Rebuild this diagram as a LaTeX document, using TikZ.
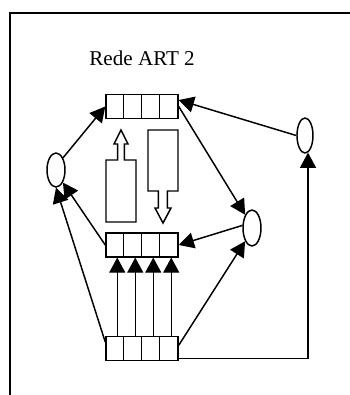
\documentclass[tikz,border=0pt]{standalone}
\usepackage{fontspec}
\setmainfont{Liberation Serif}
\usepackage{tikz}
\usetikzlibrary{positioning,arrows.meta,calc,shapes.geometric}

\begin{document}
\begin{tikzpicture}[x=0.25mm,y=-0.25mm,line width=1.05pt,
      reg/.style={draw,rectangle,inner sep=0pt,minimum width=18mm,minimum height=5.9mm},
      unit/.style={draw,ellipse,inner sep=0pt},
      arr/.style={-{Triangle[length=3.8mm,width=4mm]}},
      hollow/.style={draw,line join=miter},
      title/.style={font=\fontsize{15}{18}\selectfont,anchor=west}]
    \useasboundingbox (0,0) rectangle (350,395);
    % open frame
    \draw (350,13) -- (10,13) -- (10,395);
    \node[title] (ttl) at (84,58) {Rede ART 2};
    % registers F2, F1, F0
    \node[reg] (F2) at (142,106.5) {};
    \node[reg] (F1) at (142,245) {};
    \node[reg] (F0) at (142,348.5) {};
    \foreach \r in {F2,F1,F0} {
      \foreach \i in {1,2,3}
        \draw ($(\r.north west)+(18*\i,0)$) -- ($(\r.south west)+(18*\i,0)$);
    }
    % gain / reset units
    \node[unit,minimum width=4.5mm,minimum height=8.5mm] (gL) at (56,170) {};
    \node[unit,minimum width=4mm,minimum height=8.75mm] (gR) at (305,135.5) {};
    \node[unit,minimum width=4.5mm,minimum height=9mm] (rs) at (252,228) {};
    % connections
    \draw[arr] (gL.60) -- (F2.west);
    \draw[arr] (gR.west) -- (F2.10);
    \draw[arr] (F2.east) -- (rs.north west);
    \draw[arr] (rs.165) -- (F1.east);
    \draw[arr] (F1.west) -- (gL.south east);
    \draw[arr] (F0.170) -- (gL.south);
    \draw[arr] (F0.5) -- (rs.south west);
    \draw[arr] (F0.-15) -| (gR.-80);
    \foreach \i in {0,...,3}
      \draw[arr] ($(F0.north west)+(12+18*\i,0)$) -- ($(F1.south west)+(12+18*\i,0)$);
    % hollow arrows between F1 and F2
    \draw[hollow] (106,222) -- (136,222) -- (136,160) -- (124.3,160) -- (124.3,144)
      -- (128,144) -- (121,130) -- (114,144) -- (117.7,144) -- (117.7,160)
      -- (106,160) -- cycle;
    \draw[hollow] (148,130) -- (178,130) -- (178,191) -- (167.3,191) -- (167.3,208)
      -- (171,208) -- (163,223) -- (155,208) -- (158.3,208) -- (158.3,191)
      -- (148,191) -- cycle;
  \end{tikzpicture}
\end{document}
